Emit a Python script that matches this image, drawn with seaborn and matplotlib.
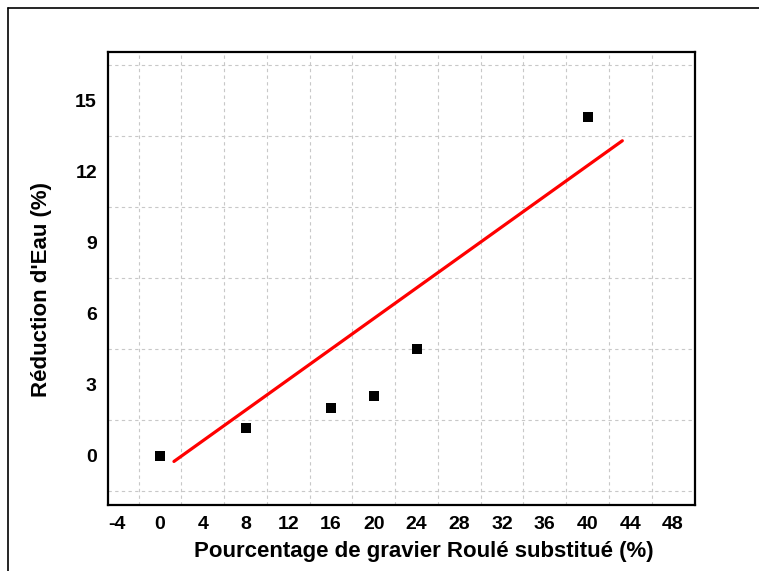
import matplotlib
matplotlib.use("Agg")
import matplotlib.pyplot as plt
import seaborn as sns
import pandas as pd
import numpy as np
from matplotlib.lines import Line2D

# Data
substitution = [0, 8, 16, 20, 24, 40]
water_reduction = [0.0, 1.18, 2.0, 2.53, 4.5, 14.3]
fit_x = [1.3, 43.25]
fit_y = [-0.24, 13.31]
x_ticks = [-4, 0, 4, 8, 12, 16, 20, 24, 28, 32, 36, 40, 44, 48]
y_ticks = [0, 3, 6, 9, 12, 15]

sns.set_theme(style="white")
plt.rcParams['font.family'] = ['Liberation Sans', 'DejaVu Sans']
plt.rcParams['axes.unicode_minus'] = False
plt.rcParams['text.color'] = 'black'
plt.rcParams['axes.labelcolor'] = 'black'

fig = plt.figure(figsize=(7.59, 5.71), dpi=100)
ax = fig.add_axes([108/759, 1-505/571, (695-108)/759, (505-52)/571])

df = pd.DataFrame({"x": substitution, "y": water_reduction})
fit_df = pd.DataFrame({"x": fit_x, "y": fit_y})

sns.lineplot(data=fit_df, x="x", y="y", ax=ax, color="#ff0000", linewidth=2.3, zorder=3)
sns.scatterplot(data=df, x="x", y="y", ax=ax, marker="s", s=45, color="black",
                edgecolor="black", linewidth=0, zorder=4)

ax.set_xlim(-4.87, 50.05)
ax.set_ylim(-2.08, 17.06)
ax.set_xticks(x_ticks)
ax.set_yticks(y_ticks)
ax.set_xticks(np.arange(-2, 48, 4), minor=True)
ax.set_yticks(np.arange(-1.5, 17, 3), minor=True)
ax.grid(False)
ax.grid(which="minor", color="#c8c8c8", linestyle=(0, (3, 3)), linewidth=0.8)
ax.tick_params(which="major", direction="in", length=2, width=0.8, colors="black",
               labelcolor="black", labelsize=14, pad=8)
ax.tick_params(which="minor", length=0)
for lab in ax.get_xticklabels() + ax.get_yticklabels():
    lab.set_fontweight("bold")
    lab.set_color("black")

for sp in ax.spines.values():
    sp.set_color("black")
    sp.set_linewidth(1.6)

ax.set_xlabel("Pourcentage de gravier Roulé substitué (%)", fontsize=16, fontweight="bold",
              color="black")
ax.xaxis.set_label_coords(0.5375, -0.08)
ax.set_ylabel("Réduction d'Eau (%)", fontsize=16, fontweight="bold", color="black")
ax.yaxis.set_label_coords(-0.095, 0.475)

# outer frame lines
fig.add_artist(Line2D([8/759, 1.0], [1-8/571, 1-8/571], transform=fig.transFigure, color="black", linewidth=1.2))
fig.add_artist(Line2D([8/759, 8/759], [0.0, 1-8/571], transform=fig.transFigure, color="black", linewidth=1.2))

fig.savefig("out.png", dpi=100, facecolor="white")
